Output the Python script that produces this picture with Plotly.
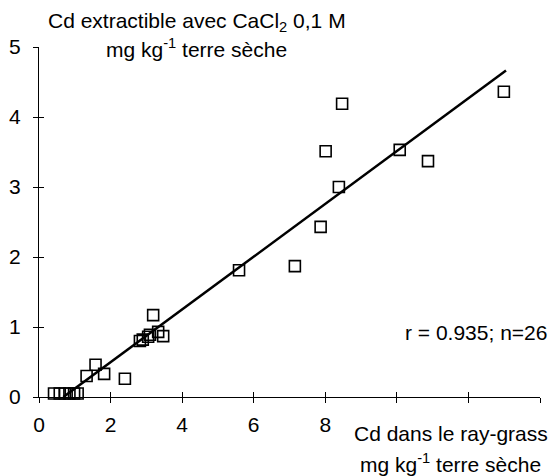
import plotly.graph_objects as go

# Data
cd_raygrass = [0.42, 0.58, 0.72, 0.85, 0.98, 1.08,
               1.33, 1.58, 1.82, 2.40,
               2.82, 2.90, 3.05, 3.19, 3.33, 3.47,
               5.59, 7.15, 7.87, 8.01, 8.38, 8.47,
               10.08, 10.87, 12.99, 3.10]
cd_cacl2 = [0.05, 0.05, 0.05, 0.05, 0.05, 0.05,
            0.30, 0.46, 0.33, 0.26,
            0.80, 0.82, 0.86, 1.17, 0.93, 0.87,
            1.81, 1.87, 2.43, 3.51, 3.00, 4.19,
            3.53, 3.37, 4.36, 0.89]

# regression line parameters
fit_slope = 0.377
fit_intercept = -0.257
fit_x = [0.68, 13.05]
fit_y = [fit_slope * v + fit_intercept for v in fit_x]

x_tickvals = [0, 2, 4, 6, 8, 10, 12, 14]
x_ticktext = ["0", "2", "4", "6", "8", "", "", ""]
y_tickvals = [0, 1, 2, 3, 4, 5]

FONT = "Liberation Sans, Arial, sans-serif"
FS = 21

fig = go.Figure()
fig.add_trace(go.Scatter(x=fit_x, y=fit_y, mode="lines",
                         line=dict(color="black", width=2.5),
                         showlegend=False, hoverinfo="skip"))
fig.add_trace(go.Scatter(x=cd_raygrass, y=cd_cacl2, mode="markers",
                         marker=dict(symbol="square-open", size=11,
                                     color="black", line=dict(width=1.6)),
                         cliponaxis=False, showlegend=False))
# empty trace to carry the overlay axes (inner half of crossing ticks)
fig.add_trace(go.Scatter(x=[None], y=[None], xaxis="x2", yaxis="y2",
                         showlegend=False, hoverinfo="skip"))

axis_common = dict(showgrid=False, zeroline=False, color="black",
                   automargin=False,
                   tickfont=dict(family=FONT, size=FS, color="black"))

fig.update_layout(
    width=552, height=476,
    margin=dict(l=39, r=12, t=47, b=79),
    paper_bgcolor="white", plot_bgcolor="white",
    font=dict(family=FONT, size=FS, color="black"),
    xaxis=dict(range=[0, 14], tickvals=x_tickvals, ticktext=x_ticktext,
               showline=True, linecolor="black", linewidth=1.2,
               ticks="outside", ticklen=5, tickwidth=1.2, tickcolor="black",
               ticklabelstandoff=4, **axis_common),
    yaxis=dict(range=[0, 5], tickvals=y_tickvals,
               showline=True, linecolor="black", linewidth=1.2,
               ticks="outside", ticklen=5, tickwidth=1.2, tickcolor="black",
               ticklabelstandoff=8, **axis_common),
    xaxis2=dict(range=[0, 14], tickvals=x_tickvals, overlaying="x",
                ticks="inside", ticklen=5, tickwidth=1.2, tickcolor="black",
                showticklabels=False, showline=False, showgrid=False,
                zeroline=False, automargin=False),
    yaxis2=dict(range=[0, 5], tickvals=y_tickvals, overlaying="y",
                ticks="inside", ticklen=5, tickwidth=1.2, tickcolor="black",
                showticklabels=False, showline=False, showgrid=False,
                zeroline=False, automargin=False),
    annotations=[
        dict(text="Cd extractible avec CaCl<sub>2</sub> 0,1 M",
             xref="paper", yref="paper", x=0.315, y=1.072,
             xanchor="center", yanchor="middle", showarrow=False),
        dict(text="mg kg<sup>-1</sup> terre sèche",
             xref="paper", yref="paper", x=0.315, y=0.998,
             xanchor="center", yanchor="middle", showarrow=False),
        dict(text="Cd dans le ray-grass",
             xref="paper", yref="paper", x=0.822, y=-0.104,
             xanchor="center", yanchor="middle", showarrow=False),
        dict(text="mg kg<sup>-1</sup> terre sèche",
             xref="paper", yref="paper", x=0.822, y=-0.188,
             xanchor="center", yanchor="middle", showarrow=False),
        dict(text="r = 0.935; n=26",
             xref="paper", yref="paper", x=1.018, y=0.183,
             xanchor="right", yanchor="middle", showarrow=False),
    ],
)

fig.write_html("out.html",
               config={"displayModeBar": False},
               post_script="document.body.style.margin='0';")
